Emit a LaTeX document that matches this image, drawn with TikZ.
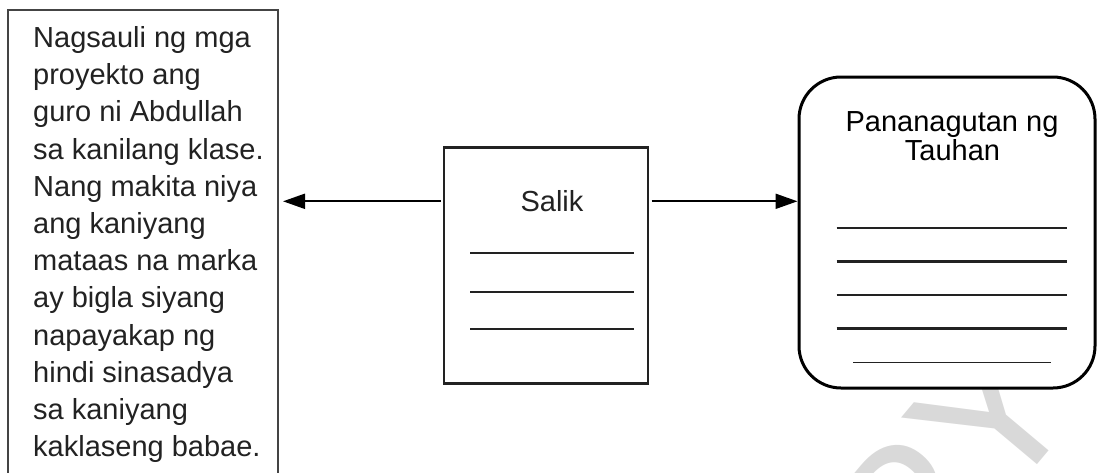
\documentclass[tikz,border=0pt]{standalone}
\usepackage{fontspec}
\setmainfont{Liberation Sans}
\usetikzlibrary{arrows.meta,calc}
\definecolor{wmgray}{HTML}{D9D9D9}
\definecolor{boxgray}{HTML}{444444}
\definecolor{txt}{HTML}{222222}
\tikzset{
  leftbox/.style={draw=boxgray, line width=2.5pt, fill=white, minimum width=270pt, minimum height=490pt, inner sep=0pt, outer sep=0pt},
  salikbox/.style={draw=txt, line width=2.5pt, fill=white, minimum width=204pt, minimum height=235.6pt, inner sep=0pt, outer sep=0pt},
  roundbox/.style={draw=black, line width=3pt, fill=white, rounded corners=42pt, minimum width=296pt, minimum height=311pt, inner sep=0pt, outer sep=0pt},
  bodytext/.style={font=\fontsize{29}{37.2}\selectfont, text=txt, align=left, inner sep=0pt},
  titletext/.style={font=\fontsize{29}{29}\selectfont, text=black, inner sep=0pt, anchor=base},
  blank/.style={line width=2.3pt, draw=txt},
  thinblank/.style={line width=1.5pt, draw=txt},
  arr/.style={line width=2pt, draw=black, -{Triangle[length=22pt, width=15pt]}},
  watermark/.style={font=\fontsize{195}{195}\selectfont, text=wmgray, inner sep=0pt}
}
\begin{document}
\begin{tikzpicture}[x=1pt, y=-1pt]
\useasboundingbox (0,0) rectangle (1098,472);
\clip (0,0) rectangle (1098,472);
% watermark
\node[watermark, rotate=50, anchor=base east] (wm) at (1085,408) {COPY};
% left text box
\node[leftbox] (left) at (143,255) {};
\node[bodytext, anchor=north west] (story) at (33,26.2) {Nagsauli ng mga\\proyekto ang\\guro ni Abdullah\\sa kanilang klase.\\Nang makita niya\\ang kaniyang\\mataas na marka\\ay bigla siyang\\napayakap ng\\hindi sinasadya\\sa kaniyang\\kaklaseng babae.};
% Salik box
\node[salikbox] (salik) at (546.15,265.5) {};
\node[font=\fontsize{29}{29}\selectfont, text=txt, inner sep=0pt, anchor=base] (saliklabel) at (552,211.7) {Salik};
\coordinate (s1a) at (470,253.3); \coordinate (s1b) at (634,253.3);
\coordinate (s2a) at (470,291.7); \coordinate (s2b) at (634,291.7);
\coordinate (s3a) at (470,328.7); \coordinate (s3b) at (634,328.7);
\draw[blank] (s1a) -- (s1b);
\draw[blank] (s2a) -- (s2b);
\draw[blank] (s3a) -- (s3b);
% right rounded box
\node[roundbox] (right) at (947,232.5) {};
\node[titletext] (rtitle1) at (952,131.7) {Pananagutan ng};
\node[titletext] (rtitle2) at (952.5,160.2) {Tauhan};
\coordinate (r1a) at (836.7,228.3); \coordinate (r1b) at (1067.3,228.3);
\coordinate (r2a) at (836.7,261.5); \coordinate (r2b) at (1067.3,261.5);
\coordinate (r3a) at (836.7,295.3); \coordinate (r3b) at (1067.3,295.3);
\coordinate (r4a) at (836.7,328.6); \coordinate (r4b) at (1067.3,328.6);
\coordinate (r5a) at (853,362.5); \coordinate (r5b) at (1050.7,362.5);
\draw[blank] (r1a) -- (r1b);
\draw[blank] (r2a) -- (r2b);
\draw[blank] (r3a) -- (r3b);
\draw[blank] (r4a) -- (r4b);
\draw[thinblank] (r5a) -- (r5b);
% arrows
\coordinate (ay) at (0,201.3);
\draw[arr] ($(salik.west|-ay)+(-3.5,0)$) -- ($(left.east|-ay)+(5,0)$);
\draw[arr] ($(salik.east|-ay)+(3.5,0)$) -- ($(right.west|-ay)+(-1.5,0)$);
\end{tikzpicture}
\end{document}
